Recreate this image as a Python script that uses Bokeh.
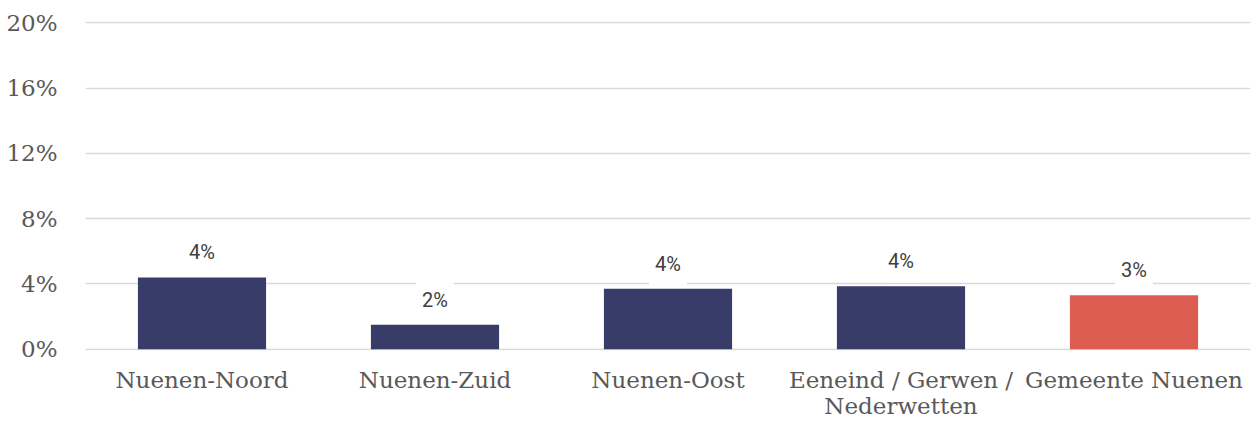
from bokeh.plotting import figure
from bokeh.models import ColumnDataSource, FactorRange, Range1d, FixedTicker, PrintfTickFormatter
from bokeh.core.properties import value
from bokeh.embed import file_html
from bokeh.resources import INLINE

categories = ["Nuenen-Noord", "Nuenen-Zuid", "Nuenen-Oost", "Eeneind / Gerwen /\nNederwetten", "Gemeente Nuenen"]
values = [4.4, 1.5, 3.7, 3.85, 3.3]
labels = ["4%", "2%", "4%", "4%", "3%"]
colors = ["#383c68", "#383c68", "#383c68", "#383c68", "#dd5c51"]
y_ticks = [0, 4, 8, 12, 16, 20]

src = ColumnDataSource(dict(cat=categories, val=values, lab=labels, col=colors))

p = figure(x_range=FactorRange(*categories, range_padding=0), y_range=Range1d(-0.08, 20.08),
           width=1252, height=425, output_backend="svg", toolbar_location=None,
           min_border_left=85, min_border_right=2, min_border_top=21, min_border_bottom=75)
p.outline_line_color = None
p.background_fill_color = "white"

p.vbar(x="cat", top="val", width=0.55, color="col", source=src, line_color=None)
p.text(x="cat", y="val", text="lab", source=src, y_offset=-25,
       text_align="center", text_baseline="middle",
       text_font=value("Roboto"), text_font_size="20px", text_color="#404040",
       background_fill_color="white", padding=[6, 9])

p.xgrid.grid_line_color = None
p.ygrid.grid_line_color = "#d9d9d9"
p.ygrid.grid_line_width = 1.5
p.ygrid.ticker = FixedTicker(ticks=y_ticks)

p.yaxis.ticker = FixedTicker(ticks=y_ticks)
p.yaxis.formatter = PrintfTickFormatter(format="%d%%")
for ax in (p.xaxis[0], p.yaxis[0]):
    ax.axis_line_color = None
    ax.major_tick_line_color = None
    ax.minor_tick_line_color = None
    ax.major_label_text_font = "DejaVu Serif"
    ax.major_label_text_font_size = "23px"
    ax.major_label_text_color = "#595959"
p.yaxis.major_label_standoff = 22
p.xaxis.major_label_standoff = 10
p.xaxis.major_label_text_line_height = 1.0

open("out.html", "w").write(file_html(p, INLINE))
